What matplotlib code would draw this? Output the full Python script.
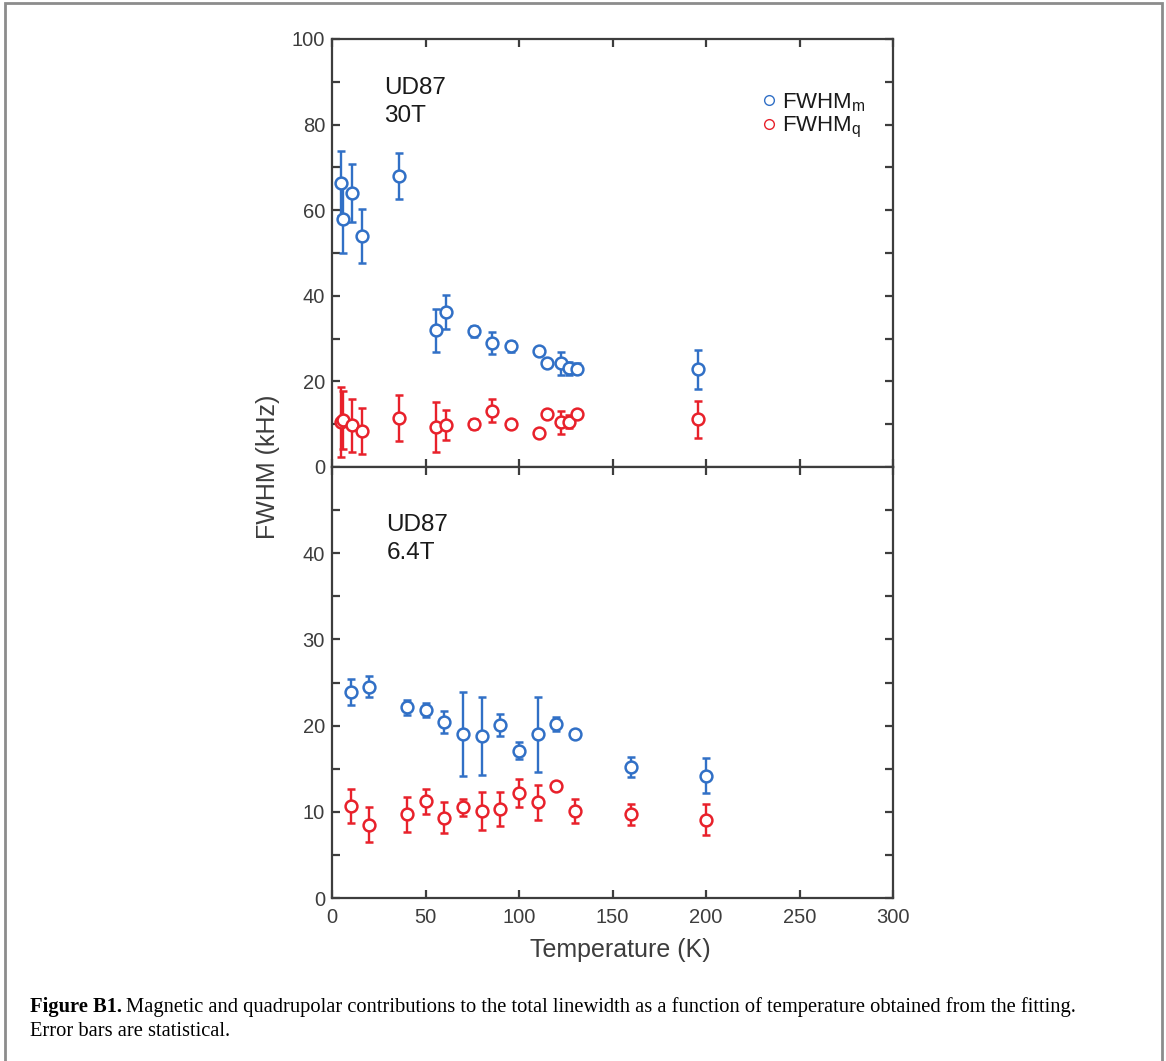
import matplotlib
matplotlib.use('Agg')
import matplotlib.pyplot as plt
from matplotlib.lines import Line2D
from matplotlib.patches import Rectangle

plt.rcParams['font.family'] = ['Liberation Sans', 'DejaVu Sans']
plt.rcParams['mathtext.default'] = 'regular'

blue = '#3170c6'
red = '#e8212b'
dark = '#3d3d3d'

# ---- UD87, 30 T ----
t30 = [4.6, 6.0, 10.9, 15.9, 35.8, 55.6, 60.8, 75.8, 85.7, 95.9, 110.5, 114.8, 122.6, 126.9, 130.8, 195.5]
m30 = [66.3, 57.9, 64.1, 54.0, 68.0, 31.9, 36.2, 31.7, 29.0, 28.2, 27.0, 24.3, 24.2, 23.1, 23.0, 22.8]
m30_err = [7.6, 8.0, 6.8, 6.3, 5.3, 5.1, 4.0, 1.3, 2.5, 1.3, 0.7, 0.0, 2.6, 1.5, 1.3, 4.5]
q30 = [10.6, 11.0, 9.7, 8.4, 11.4, 9.3, 9.8, 10.0, 13.1, 10.0, 7.9, 12.4, 10.4, 10.6, 12.5, 11.1]
q30_err = [8.2, 6.7, 6.2, 5.3, 5.4, 5.9, 3.6, 1.1, 2.7, 0.0, 0.0, 0.0, 2.7, 1.5, 0.6, 4.3]

# ---- UD87, 6.4 T ----
t64 = [10, 20, 40, 50, 60, 70, 80, 90, 100, 110, 120, 130, 160, 200]
m64 = [23.9, 24.5, 22.1, 21.8, 20.4, 19.0, 18.8, 20.1, 17.1, 19.0, 20.2, 19.0, 15.2, 14.2]
m64_err = [1.5, 1.2, 0.9, 0.8, 1.3, 4.9, 4.5, 1.3, 1.0, 4.35, 0.85, 0.0, 1.15, 2.0]
q64 = [10.7, 8.5, 9.7, 11.2, 9.3, 10.5, 10.1, 10.3, 12.2, 11.1, 13.0, 10.1, 9.7, 9.1]
q64_err = [1.95, 2.05, 2.0, 1.5, 1.8, 0.95, 2.25, 2.0, 1.6, 2.05, 0.5, 1.35, 1.2, 1.8]

fig = plt.figure(figsize=(11.66, 10.61), dpi=100)
W, H = 1166, 1061
ax1 = fig.add_axes([332 / W, 1 - 467 / H, (893 - 332) / W, (467 - 39) / H])
ax2 = fig.add_axes([332 / W, 1 - 898 / H, (893 - 332) / W, (898 - 467) / H])

def draw(ax, t, y, e, c):
    ax.errorbar(t, y, yerr=e, fmt='o', color=c, mfc='white', mec=c,
                ms=8.5, mew=1.8, elinewidth=1.7, capsize=3, capthick=1.7)

draw(ax1, t30, m30, m30_err, blue)
draw(ax1, t30, q30, q30_err, red)
draw(ax2, t64, m64, m64_err, blue)
draw(ax2, t64, q64, q64_err, red)

for ax in (ax1, ax2):
    ax.set_xlim(0, 300)
    ax.set_xticks(range(0, 301, 50))
    for s in ax.spines.values():
        s.set_color(dark)
        s.set_linewidth(1.6)
    ax.tick_params(direction='in', top=True, right=True, length=6, width=1.6,
                   color=dark, labelcolor=dark, labelsize=14.5, pad=5)

ax1.set_ylim(0, 100)
ax1.set_yticks(range(0, 101, 10))
ax1.set_yticklabels([str(v) if v % 20 == 0 else '' for v in range(0, 101, 10)])
ax1.tick_params(labelbottom=False)

ax2.set_ylim(0, 50)
ax2.set_yticks(range(0, 50, 5))
ax2.set_yticklabels([str(v) if v % 10 == 0 else '' for v in range(0, 50, 5)])
ax2.tick_params(axis='x', pad=7)

ax1.text(0.093, 0.853, 'UD87\n30T', transform=ax1.transAxes, fontsize=17.5,
         color='#1a1a1a', va='center', linespacing=1.35)
ax2.text(0.097, 0.834, 'UD87\n6.4T', transform=ax2.transAxes, fontsize=17.5,
         color='#1a1a1a', va='center', linespacing=1.35)

handles = [Line2D([], [], ls='none', marker='o', ms=7, mfc='none', mec=blue, mew=1),
           Line2D([], [], ls='none', marker='o', ms=7, mfc='none', mec=red, mew=1)]
ax1.legend(handles, ['FWHM$_m$', 'FWHM$_q$'], loc='upper right',
           bbox_to_anchor=(0.987, 0.925), frameon=False, fontsize=16,
           handlelength=0.6, handletextpad=0.3, labelspacing=0.05,
           labelcolor='#1a1a1a')

fig.text(268 / W, 1 - 467 / H, 'FWHM (kHz)', rotation=90, ha='center', va='center',
         fontsize=18, color=dark)
fig.text(620 / W, 1 - 950 / H, 'Temperature (K)', ha='center', va='center',
         fontsize=18, color=dark)

# caption: bold label followed by regular text
cap_size = 14.8
bold = fig.text(30 / W, 1 - 1007 / H, 'Figure B1.', fontsize=cap_size,
                family='Liberation Serif', weight='bold', va='center')
fig.canvas.draw()
bb = bold.get_window_extent()
fig.text((bb.x1 + 4) / W, 1 - 1007 / H,
         'Magnetic and quadrupolar contributions to the total linewidth as a function of temperature obtained from the fitting.',
         fontsize=cap_size, family='Liberation Serif', va='center')
fig.text(30 / W, 1 - 1032 / H, 'Error bars are statistical.', fontsize=cap_size,
         family='Liberation Serif', va='center')

fig.patches.append(Rectangle((5 / W, -0.05), 1157 / W, 1.05 - 3 / H,
                             transform=fig.transFigure, fill=False,
                             edgecolor='#8c8c8c', linewidth=2))

fig.savefig('out.png', dpi=100)
